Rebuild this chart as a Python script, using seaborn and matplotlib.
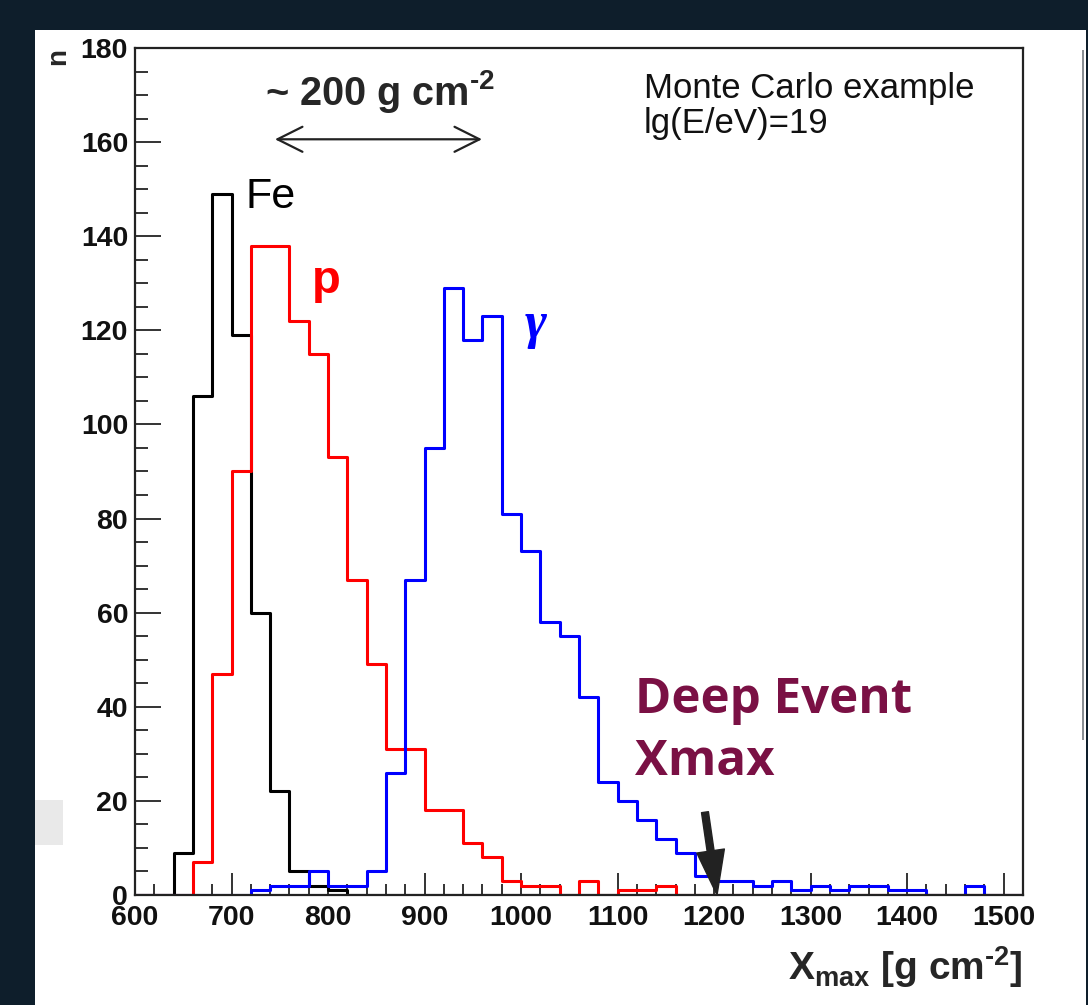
import numpy as np
import pandas as pd
import matplotlib
matplotlib.use("Agg")
import matplotlib.pyplot as plt
import seaborn as sns
from matplotlib.patches import Rectangle
from matplotlib.ticker import MultipleLocator

# Xmax histograms, 20 g/cm2 bins from 600 to 1520
bin_edges = list(range(600, 1521, 20))
counts_fe = [0, 0, 9, 106, 149, 119, 60, 22, 5, 2, 1, 0,
             0, 0, 0, 0, 0, 0, 0, 0, 0, 0, 0, 0,
             0, 0, 0, 0, 0, 0, 0, 0, 0, 0, 0, 0,
             0, 0, 0, 0, 0, 0, 0, 0, 0, 0]
counts_p = [0, 0, 0, 7, 47, 90, 138, 138, 122, 115, 93, 67,
            49, 31, 31, 18, 18, 11, 8, 3, 2, 2, 0, 3,
            0, 1, 1, 2, 0, 0, 0, 0, 0, 0, 0, 0,
            0, 0, 0, 0, 0, 0, 0, 0, 0, 0]
counts_gamma = [0, 0, 0, 0, 0, 0, 1, 2, 2, 5, 2, 2,
                5, 26, 67, 95, 129, 118, 123, 81, 73, 58, 55, 42,
                24, 20, 16, 12, 9, 4, 3, 3, 2, 3, 1, 2,
                1, 2, 2, 1, 1, 0, 0, 2, 0, 0]
particles = ["gamma", "p", "Fe"]
colors = {"gamma": "#0000ff", "p": "#ff0000", "Fe": "#000000"}

centers = np.array(bin_edges[:-1]) + 10
df = pd.concat([
    pd.DataFrame({"xmax": centers, "n": counts_gamma, "particle": "gamma"}),
    pd.DataFrame({"xmax": centers, "n": counts_p, "particle": "p"}),
    pd.DataFrame({"xmax": centers, "n": counts_fe, "particle": "Fe"}),
], ignore_index=True)

sns.set_style("ticks")
plt.rcParams["font.family"] = ["Liberation Sans", "DejaVu Sans"]
plt.rcParams["mathtext.fontset"] = "custom"
plt.rcParams["mathtext.rm"] = "Liberation Sans"
plt.rcParams["mathtext.bf"] = "Liberation Sans:bold"

W, H = 1088, 1005
fig = plt.figure(figsize=(W / 100, H / 100), dpi=100, facecolor="#0e1e2b")
# white slide panel + small artifacts
fig.patches.append(Rectangle((35 / W, 0), (1086 - 35) / W, (H - 30) / H,
                             transform=fig.transFigure, facecolor="white",
                             edgecolor="none", zorder=-2))
fig.patches.append(Rectangle((35 / W, 1 - 845 / H), 28 / W, 45 / H,
                             transform=fig.transFigure, facecolor="#e9e9e9",
                             edgecolor="none", zorder=-1))
fig.patches.append(Rectangle((1082 / W, 1 - 740 / H), 2 / W, 690 / H,
                             transform=fig.transFigure, facecolor="#8a8f94",
                             edgecolor="none", zorder=-1))

ax = fig.add_axes([135 / W, 1 - 895 / H, (1023 - 135) / W, (895 - 48) / H])
ax.set_facecolor("white")

sns.histplot(data=df, x="xmax", weights="n", hue="particle", hue_order=particles,
             bins=bin_edges, element="step", fill=False, palette=colors,
             linewidth=2.2, legend=False, ax=ax)

ax.set_xlim(600, 1520)
ax.set_ylim(0, 180)
ax.set_xlabel("")
ax.set_ylabel("")
ax.xaxis.set_major_locator(MultipleLocator(100))
ax.xaxis.set_minor_locator(MultipleLocator(20))
ax.yaxis.set_major_locator(MultipleLocator(20))
ax.yaxis.set_minor_locator(MultipleLocator(5))
ax.tick_params(axis="both", which="both", direction="in", colors="#111111", width=1.2)
ax.tick_params(axis="x", which="major", length=16, pad=7, labelsize=20.5)
ax.tick_params(axis="x", which="minor", length=8)
ax.tick_params(axis="y", which="major", length=19, pad=5, labelsize=20.5)
ax.tick_params(axis="y", which="minor", length=9.5)
for lab in ax.get_xticklabels() + ax.get_yticklabels():
    lab.set_fontweight("bold")
for sp in ax.spines.values():
    sp.set_visible(True)
    sp.set_linewidth(1.6)
    sp.set_color("#222222")

# annotations
ax.text(734.7, 167.9, "~ 200 g cm$^{\\mathbf{\u20102}}$", fontsize=28.5, fontweight="bold",
        ha="left", va="baseline")
ax.annotate("", xy=(959.5, 160.6), xytext=(745, 160.6),
            arrowprops=dict(arrowstyle="<->,head_length=1.8,head_width=0.9",
                            lw=1.6, color="#222222", shrinkA=0, shrinkB=0))
ax.text(1127, 169.4, "Monte Carlo example", fontsize=25, ha="left", va="baseline",
        color="#111111")
ax.text(1127, 161.9, "lg(E/eV)=19", fontsize=25, ha="left", va="baseline",
        color="#111111")
ax.text(714, 146, "Fe", fontsize=31, color="black", ha="left", va="baseline")
ax.text(783.4, 128.0, "p", fontsize=34, fontweight="bold", color="red",
        ha="left", va="baseline")
ax.text(1004, 118.3, "γ", fontsize=38, color="blue", ha="left", va="baseline",
        family=["Liberation Serif", "DejaVu Serif"], style="italic", fontweight="bold")
ax.text(1118, 38.7, "Deep Event", fontsize=35.5, fontweight="bold", color="#7a1044",
        ha="left", va="baseline", family=["Open Sans", "Liberation Sans"])
ax.text(1118, 25.5, "Xmax", fontsize=35.5, fontweight="bold", color="#7a1044",
        ha="left", va="baseline", family=["Open Sans", "Liberation Sans"])
ax.annotate("", xy=(1203, 0), xytext=(1190.5, 17.6),
            arrowprops=dict(arrowstyle="simple,head_length=3.2,head_width=2.0,tail_width=0.5",
                            color="#222222", shrinkA=0, shrinkB=0, mutation_scale=10))

# axis titles
fig.text(1023 / W, 1 - 980 / H, "$\\mathbf{X_{max}}$ [g cm$^{\\mathbf{\u20102}}$]",
         fontsize=28, fontweight="bold", ha="right", va="baseline")
fig.text(58 / W, 1 - 56 / H, "n", fontsize=20, fontweight="bold", rotation=90,
         ha="center", va="center")

fig.savefig("out.png", dpi=100, facecolor=fig.get_facecolor())
